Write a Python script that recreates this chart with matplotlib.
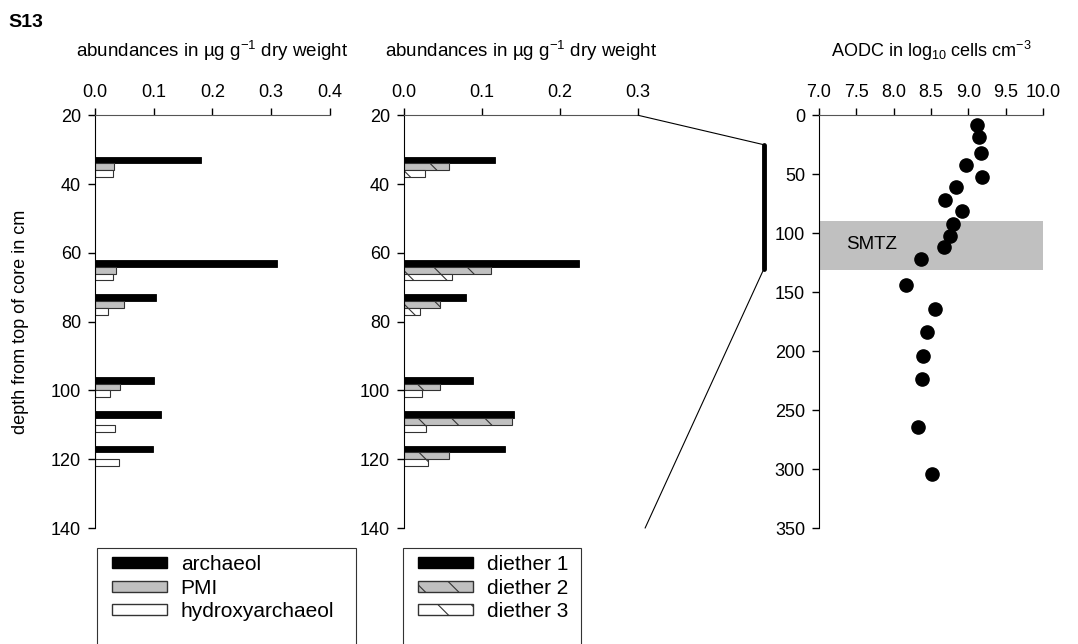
import matplotlib.pyplot as plt
from matplotlib.patches import Patch, Rectangle, ConnectionPatch
from matplotlib.transforms import blended_transform_factory

plt.rcParams['font.family'] = ['Liberation Sans', 'DejaVu Sans']
plt.rcParams['mathtext.fontset'] = 'custom'
plt.rcParams['mathtext.rm'] = 'Liberation Sans'
plt.rcParams['mathtext.default'] = 'regular'
plt.rcParams['hatch.linewidth'] = 0.8

# lipid sample depths (cm)
depth = [35, 65, 75, 99, 109, 119]

# archaeol group (ug/g dry weight)
archaeol = [0.180, 0.310, 0.104, 0.100, 0.112, 0.099]
pmi = [0.032, 0.035, 0.049, 0.043, 0.0, 0.0]
hydroxyarchaeol = [0.031, 0.030, 0.022, 0.026, 0.034, 0.041]

# diethers (ug/g dry weight)
diether1 = [0.117, 0.224, 0.079, 0.089, 0.141, 0.129]
diether2 = [0.057, 0.112, 0.046, 0.046, 0.138, 0.058]
diether3 = [0.027, 0.062, 0.020, 0.023, 0.028, 0.031]

# acridine orange direct counts
aodc_depth = [8, 18, 32, 42, 52, 61, 72, 81, 92, 102, 112, 122, 144, 164, 184, 204, 224, 264, 304]
aodc = [9.12, 9.14, 9.17, 8.97, 9.19, 8.83, 8.69, 8.91, 8.80, 8.76, 8.68, 8.36,
        8.17, 8.55, 8.45, 8.39, 8.38, 8.33, 8.52]

smtz = [90, 131]
core_interval = [25, 130]

bar_h = 2.0
fs = 13

fig = plt.figure(figsize=(10.78, 6.44), dpi=100)
ax1 = fig.add_axes([0.0881, 0.180, 0.218, 0.641])
ax2 = fig.add_axes([0.3748, 0.180, 0.2171, 0.641])
ax3 = fig.add_axes([0.7597, 0.180, 0.2078, 0.641])


def setup(ax, xticks, yticks):
    ax.set_xlim(xticks[0], xticks[-1])
    ax.set_ylim(yticks[-1], yticks[0])
    ax.set_xticks(xticks)
    ax.set_yticks(yticks)
    ax.xaxis.tick_top()
    ax.xaxis.set_label_position('top')
    ax.xaxis.set_major_formatter('{x:.1f}')
    ax.yaxis.set_major_formatter('{x:.0f}')
    ax.spines['right'].set_visible(False)
    ax.spines['bottom'].set_visible(False)
    ax.spines['top'].set_color('#555555')
    ax.tick_params(direction='out', length=5, width=1, labelsize=fs, pad=5)


setup(ax1, [0.0, 0.1, 0.2, 0.3, 0.4], [20, 40, 60, 80, 100, 120, 140])
ax1.barh([d - bar_h for d in depth], archaeol, height=bar_h, color='black',
         edgecolor='black', lw=0.6)
ax1.barh(depth, pmi, height=bar_h, color='#c0c0c0', edgecolor='#333333', lw=0.8)
ax1.barh([d + bar_h for d in depth], hydroxyarchaeol, height=bar_h, color='white',
         edgecolor='#333333', lw=0.8)
ax1.set_xlabel('abundances in µg g$^{-1}$ dry weight', fontsize=fs + 0.5, labelpad=20)
ax1.set_ylabel('depth from top of core in cm', fontsize=fs, labelpad=16)

setup(ax2, [0.0, 0.1, 0.2, 0.3], [20, 40, 60, 80, 100, 120, 140])
ax2.barh([d - bar_h for d in depth], diether1, height=bar_h, color='black',
         edgecolor='black', lw=0.6)
ax2.barh(depth, diether2, height=bar_h, color='#c0c0c0', edgecolor='#333333',
         lw=0.8, hatch='\\')
ax2.barh([d + bar_h for d in depth], diether3, height=bar_h, color='white',
         edgecolor='#333333', lw=0.8, hatch='\\')
ax2.set_xlabel('abundances in µg g$^{-1}$ dry weight', fontsize=fs + 0.5, labelpad=20)

setup(ax3, [7.0, 7.5, 8.0, 8.5, 9.0, 9.5, 10.0], [0, 50, 100, 150, 200, 250, 300, 350])
ax3.axhspan(smtz[0], smtz[1], color='#c0c0c0', lw=0, zorder=0)
ax3.text(7.36, (smtz[0] + smtz[1]) / 2 - 1, 'SMTZ', fontsize=fs + 0.5, va='center')
ax3.plot(aodc, aodc_depth, 'o', color='black', ms=9.5, clip_on=False)
ax3.set_xlabel('AODC in log$_{10}$ cells cm$^{-3}$', fontsize=fs, labelpad=20)

# bar marking the lipid interval on the AODC depth scale
bar_x = 764 / 1078
tr = blended_transform_factory(fig.transFigure, ax3.transData)
ax3.plot([bar_x, bar_x], core_interval, color='black', lw=3.5,
         solid_capstyle='round', transform=tr, clip_on=False)
for xa, ya, yb in [(1.0, 1.0, core_interval[0]), (1.03, 0.0, core_interval[1])]:
    con = ConnectionPatch(xyA=(xa, ya), coordsA=ax2.transAxes,
                          xyB=(bar_x, yb), coordsB=tr, color='black', lw=0.8)
    fig.add_artist(con)

fig.text(0.008, 0.965, 'S13', fontsize=14, fontweight='bold', va='center')

# legend frames run off the bottom edge of the page
for x0, x1 in [(97, 356), (403, 581)]:
    fig.add_artist(Rectangle((x0 / 1078, -0.05), (x1 - x0) / 1078, 0.05 + 96 / 644,
                             transform=fig.transFigure, fill=False, lw=0.8,
                             edgecolor='#333333', clip_on=False))

h1 = [Patch(facecolor='black', edgecolor='black', label='archaeol'),
      Patch(facecolor='#c0c0c0', edgecolor='#333333', label='PMI'),
      Patch(facecolor='white', edgecolor='#333333', label='hydroxyarchaeol')]
h2 = [Patch(facecolor='black', edgecolor='black', label='diether 1'),
      Patch(facecolor='#c0c0c0', edgecolor='#333333', hatch='\\', label='diether 2'),
      Patch(facecolor='white', edgecolor='#333333', hatch='\\', label='diether 3')]
leg_kw = dict(frameon=False, fontsize=15, handlelength=2.65, handleheight=0.45,
              handletextpad=0.65, labelspacing=0.22, borderaxespad=0, borderpad=0)
fig.legend(handles=h1, loc='upper left', bbox_to_anchor=(112 / 1078, 1 - 555 / 644), **leg_kw)
fig.legend(handles=h2, loc='upper left', bbox_to_anchor=(418 / 1078, 1 - 555 / 644), **leg_kw)

fig.savefig('out.png', dpi=100)
